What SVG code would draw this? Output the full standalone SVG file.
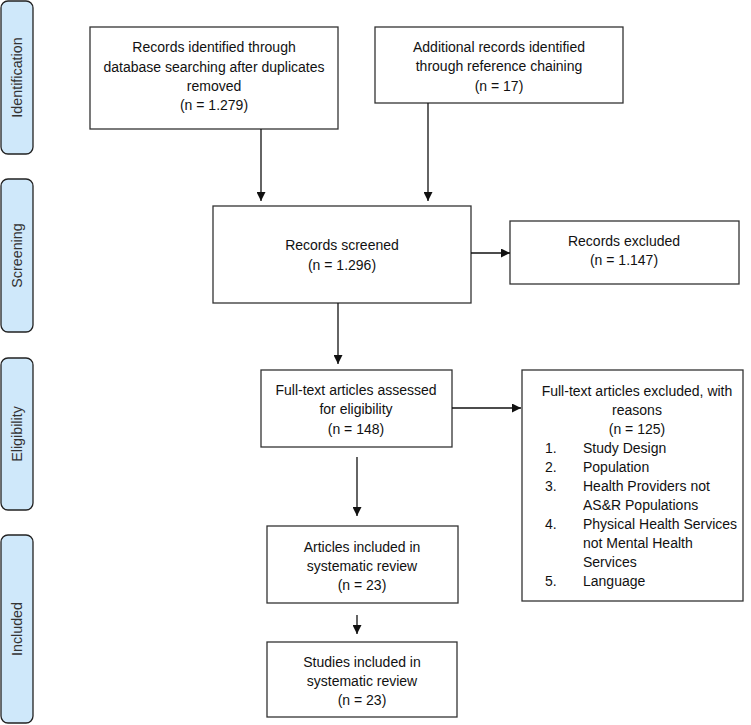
<svg xmlns="http://www.w3.org/2000/svg" width="751" height="725" viewBox="0 0 751 725">
<defs>
<style>
.box{fill:#fff;stroke:#333;stroke-width:1.3}
.side{fill:#cfe8fa;stroke:#222;stroke-width:1.3}
text{font-family:"Liberation Sans",Arial,sans-serif;font-size:14px;fill:#111}
.c{text-anchor:middle}
.sl{font-size:14.3px;fill:#333;text-anchor:middle}
.ln{stroke:#111;stroke-width:1.3;fill:none}
</style>
<marker id="ah" viewBox="0 0 10 10" refX="10" refY="5" markerWidth="9" markerHeight="9" markerUnits="userSpaceOnUse" orient="auto">
<path d="M0,0 L10,5 L0,10 z" fill="#111"/>
</marker>
</defs>
<rect width="751" height="725" fill="#fff"/>
<g id="side-identification"><rect class="side" x="1" y="1" width="32" height="153" rx="7"/><text class="sl" transform="translate(22,77.5) rotate(-90)">Identification</text></g>
<g id="side-screening"><rect class="side" x="1" y="179" width="32" height="153" rx="7"/><text class="sl" transform="translate(22,255.5) rotate(-90)">Screening</text></g>
<g id="side-eligibility"><rect class="side" x="1" y="358" width="32" height="152" rx="7"/><text class="sl" transform="translate(22,434) rotate(-90)">Eligibility</text></g>
<g id="side-included"><rect class="side" x="1" y="535" width="32" height="188" rx="7"/><text class="sl" transform="translate(22,629) rotate(-90)">Included</text></g>

<g id="identified">
<rect class="box" x="90" y="27" width="248" height="102"/>
<text class="c" x="214" y="52">Records identified through</text>
<text class="c" x="214" y="72">database searching after duplicates</text>
<text class="c" x="214" y="91">removed</text>
<text class="c" x="214" y="110">(n = 1.279)</text>
</g>
<g id="additional">
<rect class="box" x="375" y="27" width="248" height="76"/>
<text class="c" x="499" y="52">Additional records identified</text>
<text class="c" x="499" y="71">through reference chaining</text>
<text class="c" x="499" y="91">(n = 17)</text>
</g>
<g id="screened">
<rect class="box" x="213" y="206" width="258" height="97"/>
<text class="c" x="342" y="250">Records screened</text>
<text class="c" x="342" y="270">(n = 1.296)</text>
</g>
<g id="excluded">
<rect class="box" x="510" y="221" width="229" height="63"/>
<text class="c" x="624" y="246">Records excluded</text>
<text class="c" x="624" y="265">(n = 1.147)</text>
</g>
<g id="fulltext">
<rect class="box" x="261" y="370" width="191" height="77"/>
<text class="c" x="356" y="395">Full-text articles assessed</text>
<text class="c" x="356" y="414">for eligibility</text>
<text class="c" x="356" y="434">(n = 148)</text>
</g>
<g id="fulltext-excluded">
<rect class="box" x="522" y="370" width="221" height="231"/>
<text class="c" x="637" y="396">Full-text articles excluded, with</text>
<text class="c" x="637" y="415">reasons</text>
<text class="c" x="637" y="434">(n = 125)</text>
<text x="545" y="453">1.</text><text x="583" y="453">Study Design</text>
<text x="545" y="472">2.</text><text x="583" y="472">Population</text>
<text x="545" y="491">3.</text><text x="583" y="491">Health Providers not</text>
<text x="583" y="510">AS&amp;R Populations</text>
<text x="545" y="529">4.</text><text x="583" y="529">Physical Health Services</text>
<text x="583" y="548">not Mental Health</text>
<text x="583" y="567">Services</text>
<text x="545" y="586">5.</text><text x="583" y="586">Language</text>
</g>
<g id="articles">
<rect class="box" x="267" y="526" width="191" height="77"/>
<text class="c" x="362" y="552">Articles included in</text>
<text class="c" x="362" y="571">systematic review</text>
<text class="c" x="362" y="590">(n = 23)</text>
</g>
<g id="studies">
<rect class="box" x="267" y="642" width="190" height="75"/>
<text class="c" x="362" y="667">Studies included in</text>
<text class="c" x="362" y="686">systematic review</text>
<text class="c" x="362" y="705">(n = 23)</text>
</g>

<g id="connectors">
<line class="ln" x1="261" y1="129" x2="261" y2="201" marker-end="url(#ah)"/>
<line class="ln" x1="428" y1="103" x2="428" y2="201" marker-end="url(#ah)"/>
<line class="ln" x1="471" y1="253" x2="510" y2="253" marker-end="url(#ah)"/>
<line class="ln" x1="338" y1="303" x2="338" y2="364" marker-end="url(#ah)"/>
<line class="ln" x1="452" y1="408" x2="521" y2="408" marker-end="url(#ah)"/>
<line class="ln" x1="357" y1="457" x2="357" y2="516" marker-end="url(#ah)"/>
<line class="ln" x1="357" y1="615" x2="357" y2="634" marker-end="url(#ah)"/>
</g>
</svg>
